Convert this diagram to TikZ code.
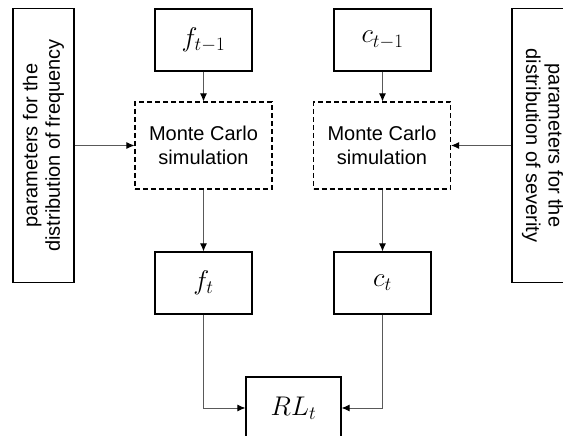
\RequirePackage{fix-cm}
\documentclass[tikz,border=0pt]{standalone}
\usepackage{fontspec}
\newfontfamily\labelfont{Liberation Sans}
\usetikzlibrary{arrows.meta}
\begin{document}
\begin{tikzpicture}[x=1pt,y=1pt,>={Latex[black,length=8pt,width=7pt]},
  box/.style={draw=black,line width=1.2pt,minimum width=97pt,minimum height=62pt,inner sep=0pt,font=\fontsize{27}{30}\selectfont},
  sim/.style={draw=black,line width=1.1pt,dashed,dash pattern=on 5pt off 3pt,minimum width=137pt,minimum height=87pt,inner sep=0pt,align=center,font=\labelfont\fontsize{20}{23.5}\selectfont},
  par/.style={draw=black,line width=1.2pt,minimum width=274pt,minimum height=61pt,inner sep=0pt,align=center,font=\labelfont\fontsize{20}{22.5}\selectfont},
  link/.style={->,draw=black!65,line width=0.9pt}]
\useasboundingbox (0,0) rectangle (563,436);
% inputs
\node (parf) at (43.5,290.5) [par,rotate=90] {parameters for the\\distribution of frequency};
\node (parc) at (542.5,290.5) [par,rotate=-90] {parameters for the\\distribution of severity};
\node (fprev) at (203.5,396) [box] {$f_{t-1}$};
\node (cprev) at (382.5,396) [box] {$c_{t-1}$};
% simulation
\node (mcf) at (203.5,290.5) [sim] {Monte Carlo\\simulation};
\node (mcc) at (382,290.5) [sim] {Monte Carlo\\simulation};
% outputs
\node (fcur) at (203.5,153) [box] {$f_t$};
\node (ccur) at (382.5,153) [box] {$c_t$};
\node (rl) at (293.5,28) [box,minimum width=95pt] {$RL_t$};
\draw[link] (fprev) -- (mcf);
\draw[link] (cprev) -- (cprev|-mcc.north);
\draw[link] (parf.south) -- (mcf.west);
\draw[link] (parc.south) -- (mcc.east);
\draw[link] (mcf) -- (fcur);
\draw[link] (mcc.south-|ccur) -- (ccur);
\draw[link] (fcur.south) |- (rl.west);
\draw[link] (ccur.south) |- (rl.east);
\end{tikzpicture}
\end{document}
